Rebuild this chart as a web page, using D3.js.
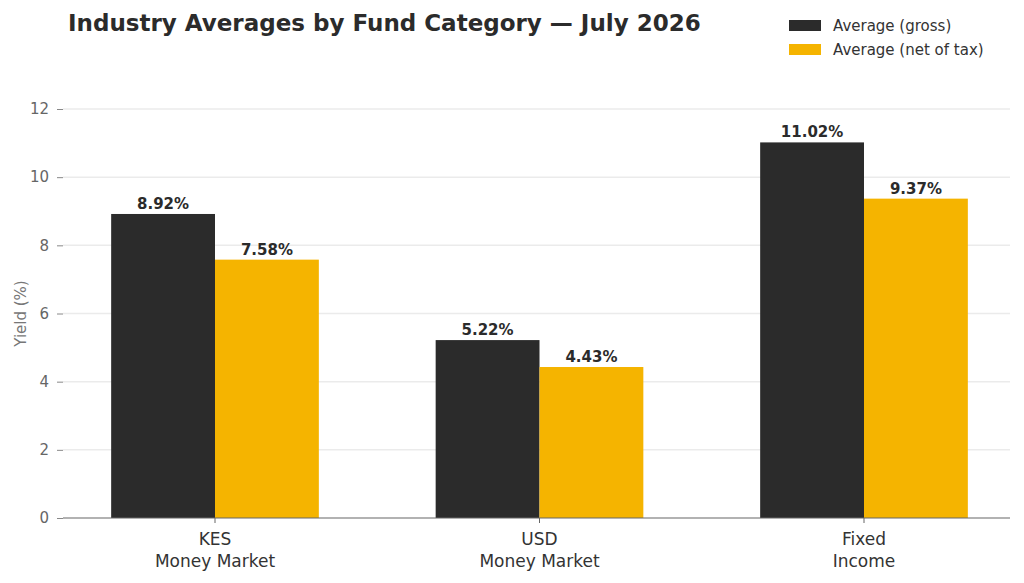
<!DOCTYPE html>
<html><head><meta charset="utf-8">
<script src="https://cdn.jsdelivr.net/npm/d3@7"></script>
<style>body{margin:0;background:#fff}svg{font-family:"DejaVu Sans",sans-serif}</style>
</head><body><div class="viz"></div>
<script>
// fund categories and averages
var categories = [["KES", "Money Market"], ["USD", "Money Market"], ["Fixed", "Income"]];
var gross = [8.92, 5.22, 11.02];
var net = [7.58, 4.43, 9.37];
var series_names = ["Average (gross)", "Average (net of tax)"];
var y_ticks = [0, 2, 4, 6, 8, 10, 12];

var width = 1024, height = 583;
var margin = {left: 63, right: 1010, top: 109, bottom: 518};
var colors = ["#2b2b2b", "#f5b400"];

var svg = d3.select('.viz').append('svg')
    .attr('width', width).attr('height', height);

var x = d3.scaleLinear().domain([0, 2]).range([215, 864]);
var y = d3.scaleLinear().domain([0, 12]).range([margin.bottom, margin.top]);
var bar_w = (x(1) - x(0)) * 0.32;

// grid
svg.append('g').selectAll('line').data(y_ticks.slice(1)).enter().append('line')
    .attr('x1', margin.left).attr('x2', margin.right)
    .attr('y1', d => y(d)).attr('y2', d => y(d))
    .attr('stroke', '#ebebeb').attr('stroke-width', 1.5);

var y_axis = svg.append('g')
    .attr('transform', `translate(${margin.left},0)`)
    .call(d3.axisLeft(y).tickValues(y_ticks).tickSize(6).tickPadding(8));
y_axis.select('.domain').remove();
y_axis.selectAll('line').attr('stroke', '#888');
y_axis.selectAll('text').attr('font-size', 15).attr('fill', '#666').attr('font-family', '"DejaVu Sans"');

svg.append('text').attr('transform', `translate(26,${y(6)}) rotate(-90)`)
    .attr('text-anchor', 'middle').attr('font-size', 15).attr('fill', '#777').text('Yield (%)');

[gross, net].forEach((vals, s) => {
    var g = svg.append('g');
    g.selectAll('rect').data(vals).enter().append('rect')
        .attr('x', (d, i) => x(i) - bar_w + s * bar_w)
        .attr('y', d => y(d))
        .attr('width', bar_w)
        .attr('height', d => y(0) - y(d))
        .attr('fill', colors[s]);
    g.selectAll('text').data(vals).enter().append('text')
        .attr('x', (d, i) => x(i) - bar_w / 2 + s * bar_w)
        .attr('y', d => y(d) - 5)
        .attr('text-anchor', 'middle').attr('font-size', 15).attr('font-weight', 'bold')
        .attr('fill', '#2b2b2b')
        .text(d => d.toFixed(2) + '%');
});

// x axis
svg.append('line').attr('x1', margin.left).attr('x2', margin.right)
    .attr('y1', y(0)).attr('y2', y(0)).attr('stroke', '#666').attr('stroke-width', 1.2);
var xl = svg.append('g').selectAll('g').data(categories).enter().append('g');
xl.append('line').attr('x1', (d, i) => x(i)).attr('x2', (d, i) => x(i))
    .attr('y1', y(0)).attr('y2', y(0) + 5).attr('stroke', '#666');
xl.append('text').attr('x', (d, i) => x(i)).attr('y', 545)
    .attr('text-anchor', 'middle').attr('font-size', 17).attr('fill', '#333').text(d => d[0]);
xl.append('text').attr('x', (d, i) => x(i)).attr('y', 567)
    .attr('text-anchor', 'middle').attr('font-size', 17).attr('fill', '#333').text(d => d[1]);

svg.append('text').attr('x', 68).attr('y', 31).attr('font-size', 23).attr('font-weight', 'bold')
    .attr('fill', '#2b2b2b').text('Industry Averages by Fund Category — July 2026');

var leg = svg.append('g').selectAll('g').data(series_names).enter().append('g')
    .attr('transform', (d, i) => `translate(789,${26 + i * 24})`);
leg.append('rect').attr('y', -6).attr('width', 32).attr('height', 11).attr('fill', (d, i) => colors[i]);
leg.append('text').attr('x', 44).attr('y', 5).attr('font-size', 15).attr('fill', '#333').text(d => d);
</script></body></html>
